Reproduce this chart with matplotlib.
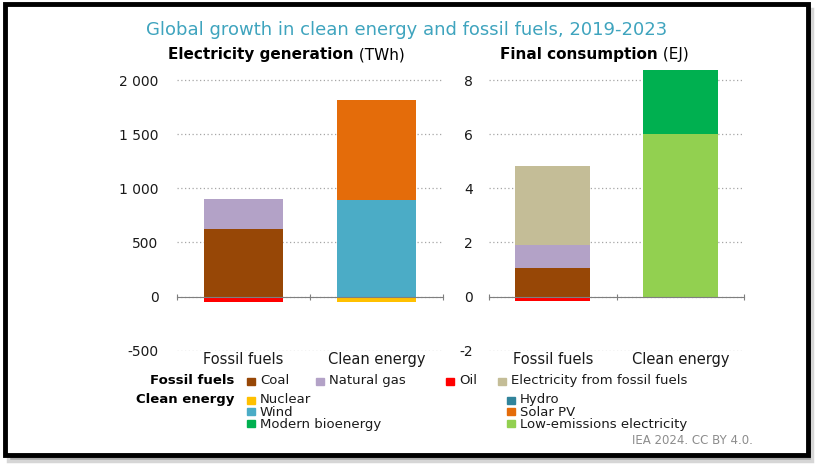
import matplotlib.pyplot as plt
from matplotlib.patches import Rectangle
from matplotlib.transforms import blended_transform_factory

plt.rcParams['font.family'] = ['DejaVu Sans']

# Données
categories = ['Fossil fuels', 'Clean energy']

# Electricity generation (TWh), growth 2019-2023
elec_coal = [620, 0]
elec_gas = [278, 0]
elec_oil = [-55, 0]
elec_nuclear = [0, -50]
elec_hydro = [0, 0]
elec_wind = [0, 893]
elec_solar = [0, 920]

# Final consumption (EJ)
fc_coal = [1.07, 0]
fc_gas = [0.83, 0]
fc_oil = [-0.18, 0]
fc_elec_fossil = [2.94, 0]
fc_low_em = [0, 6.0]
fc_bio = [0, 2.37]

elec_ticks = [-500, 0, 500, 1000, 1500, 2000]
elec_ticklabels = ['-500', '0', '500', '1 000', '1 500', '2 000']
fc_ticks = [-2, 0, 2, 4, 6, 8]
fc_ticklabels = ['-2', '0', '2', '4', '6', '8']

colors = {
    'Coal': '#974706', 'Natural gas': '#B3A2C7', 'Oil': '#FF0000',
    'Electricity from fossil fuels': '#C4BD97', 'Nuclear': '#FFC000',
    'Hydro': '#31849B', 'Wind': '#4BACC6', 'Solar PV': '#E46C0A',
    'Modern bioenergy': '#00B050', 'Low-emissions electricity': '#92D050',
}

W, H = 822, 470
fig = plt.figure(figsize=(W / 100, H / 100), dpi=100)


def fx(px):
    return px / W


def fy(py):
    return 1 - py / H


def stack(ax, series):
    pos = [0, 0]
    neg = [0, 0]
    x = range(len(categories))
    for vals, name in series:
        bottoms = [p if v >= 0 else n for v, p, n in zip(vals, pos, neg)]
        ax.bar(x, vals, bottom=bottoms, width=0.59, color=colors[name], zorder=3)
        pos = [p + max(v, 0) for v, p in zip(vals, pos)]
        neg = [n + min(v, 0) for v, n in zip(vals, neg)]


def style(ax, ticks, labels, ylim, pad):
    ax.set_xlim(-0.5, 1.5)
    ax.set_ylim(*ylim)
    ax.patch.set_alpha(0)
    for s in ['top', 'right', 'left']:
        ax.spines[s].set_visible(False)
    ax.spines['bottom'].set_position(('data', 0))
    ax.spines['bottom'].set_color('#7f7f7f')
    ax.spines['bottom'].set_zorder(4)
    ax.set_xticks([-0.5, 0.5, 1.5])
    ax.set_xticklabels([])
    ax.tick_params(axis='x', direction='inout', length=5, color='#7f7f7f')
    ax.set_yticks(ticks)
    ax.set_yticklabels(labels)
    ax.tick_params(axis='y', length=0, pad=pad, labelsize=10, labelcolor='#1a1a1a')
    ax.yaxis.grid(True, linestyle=(0, (1, 2)), color='#A6A6A6', lw=0.9, zorder=0)
    tr = blended_transform_factory(ax.transData, ax.transAxes)
    for i, c in enumerate(categories):
        ax.text(i, -0.005, c, transform=tr, ha='center', va='top', fontsize=10.5, color='#1a1a1a')


ax1 = fig.add_axes([fx(176.7), fy(350.6), fx(443 - 176.7), (350.6 - 63.9) / H])
stack(ax1, [(elec_coal, 'Coal'), (elec_gas, 'Natural gas'), (elec_oil, 'Oil'),
            (elec_nuclear, 'Nuclear'), (elec_hydro, 'Hydro'),
            (elec_wind, 'Wind'), (elec_solar, 'Solar PV')])
style(ax1, elec_ticks, elec_ticklabels, (-500, 2150), 13)

ax2 = fig.add_axes([fx(489), fy(350.6), fx(744 - 489), (350.6 - 63.9) / H])
stack(ax2, [(fc_coal, 'Coal'), (fc_gas, 'Natural gas'), (fc_oil, 'Oil'),
            (fc_elec_fossil, 'Electricity from fossil fuels'),
            (fc_low_em, 'Low-emissions electricity'), (fc_bio, 'Modern bioenergy')])
style(ax2, fc_ticks, fc_ticklabels, (-2, 8.6), 11.5)

# Titres
fig.text(fx(407), fy(30), 'Global growth in clean energy and fossil fuels, 2019-2023',
         ha='center', va='center', fontsize=13, color='#3FA4BE')
for x0, bold, unit in [(168, 'Electricity generation', ' (TWh)'), (500, 'Final consumption', ' (EJ)')]:
    t = fig.text(fx(x0), fy(55), bold, ha='left', va='center', fontsize=11, weight='bold')
    plt.annotate(unit, xy=(1, 0.5), xycoords=t, ha='left', va='center', fontsize=11)

# Légende
LEG_FS = 9.5
ROW = 11.8


def square(x, y, name):
    fig.patches.append(Rectangle((fx(x), fy(y + 3.5)), fx(8), 7 / H, transform=fig.transFigure,
                                 color=colors[name], figure=fig))


def column(x, y, names):
    for k, n in enumerate(names):
        square(x, y + k * ROW, n)
    fig.text(fx(x + 13), fy(y - 6.8), '\n'.join(names), ha='left', va='top',
             fontsize=LEG_FS, color='#1a1a1a', linespacing=0.93)


fig.text(fx(234), fy(381), 'Fossil fuels', ha='right', va='center', fontsize=LEG_FS, weight='bold')
fig.text(fx(234), fy(400), 'Clean energy', ha='right', va='center', fontsize=LEG_FS, weight='bold')
column(247, 381, ['Coal'])
column(316, 381, ['Natural gas'])
column(446, 381, ['Oil'])
column(498, 381, ['Electricity from fossil fuels'])
column(247, 400, ['Nuclear', 'Wind', 'Modern bioenergy'])
column(507, 400, ['Hydro', 'Solar PV', 'Low-emissions electricity'])

fig.text(fx(753), fy(441), 'IEA 2024. CC BY 4.0.', ha='right', va='center', fontsize=8.5, color='#8c8c8c')

# Cadre noir avec ombre
fig.patches.append(Rectangle((fx(8), fy(461)), fx(804), 452 / H, transform=fig.transFigure,
                             facecolor='#a8a8a8', edgecolor='#d6d6d6', lw=2.5, zorder=-3, figure=fig))
fig.patches.append(Rectangle((fx(5), fy(455)), fx(803), 451 / H, transform=fig.transFigure,
                             facecolor='white', edgecolor='black', lw=3.5, zorder=-2, figure=fig))

plt.savefig('out.png', dpi=100, facecolor='white')
